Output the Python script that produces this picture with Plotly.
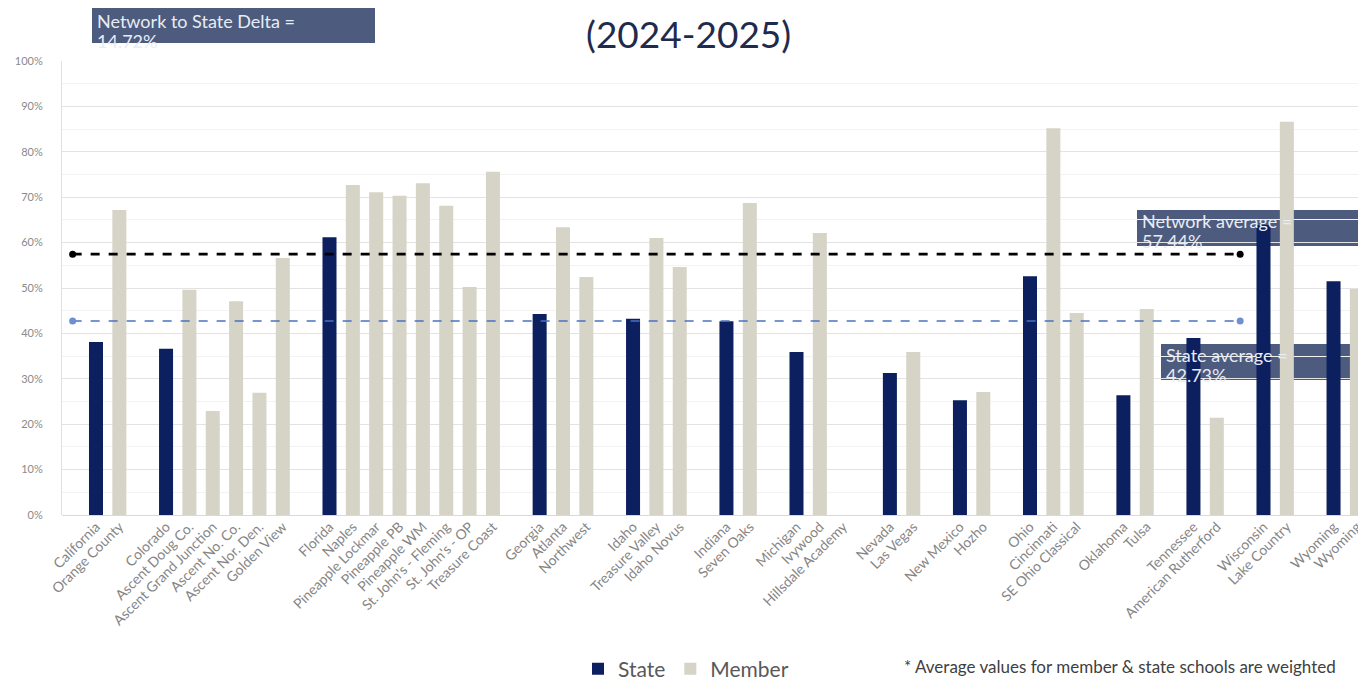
import plotly.graph_objects as go

# ---------------- data ----------------
categories = ["", "California", "Orange County", "",
              "Colorado", "Ascent Doug Co.", "Ascent Grand Junction", "Ascent No. Co.", "Ascent Nor. Den.", "Golden View", "",
              "Florida", "Naples", "Pineapple Lockmar", "Pineapple PB", "Pineapple WM", "St. John's - Fleming", "St. John's - OP", "Treasure Coast", "",
              "Georgia", "Atlanta", "Northwest", "",
              "Idaho", "Treasure Valley", "Idaho Novus", "",
              "Indiana", "Seven Oaks", "",
              "Michigan", "Ivywood", "Hillsdale Academy", "",
              "Nevada", "Las Vegas", "",
              "New Mexico", "Hozho", "",
              "Ohio", "Cincinnati", "SE Ohio Classical", "",
              "Oklahoma", "Tulsa", "",
              "Tennessee", "American Rutherford", "",
              "Wisconsin", "Lake Country", "",
              "Wyoming", "Wyoming"]

state_values = [None, 38.1, None, None,
                36.6, None, None, None, None, None, None,
                61.2, None, None, None, None, None, None, None, None,
                44.3, None, None, None,
                43.2, None, None, None,
                42.7, None, None,
                35.9, None, None, None,
                31.3, None, None,
                25.3, None, None,
                52.6, None, None, None,
                26.4, None, None,
                39.0, None, None,
                63.9, None, None,
                51.5, None]

member_values = [None, None, 67.2, None,
                 None, 49.6, 22.9, 47.1, 26.9, 56.6, None,
                 None, 72.7, 71.1, 70.3, 73.1, 68.1, 50.2, 75.6, None,
                 None, 63.4, 52.4, None,
                 None, 61.0, 54.6, None,
                 None, 68.7, None,
                 None, 62.1, None, None,
                 None, 35.9, None,
                 None, 27.1, None,
                 None, 85.2, 44.5, None,
                 None, 45.4, None,
                 None, 21.4, None,
                 None, 86.6, None,
                 None, 49.8]

network_average = 57.44
state_average = 42.73
network_to_state_delta = 14.72
avg_line_categories = [0, 50]   # category slots where the average lines start / end

y_ticks = list(range(0, 101, 10))
y_tick_labels = [f"{v}%" for v in y_ticks]

# ---------------- styling ----------------
NAVY = "#0c1f5e"
GREY = "#d6d3c7"
BOX = "#4c5b7e"
FONT = "Lato"

OFF = 8                      # page body margin of the html page
W, H = 1366, 681
PLOT_L, PLOT_T = 62, 61      # on-screen plot area corner
PW, PH = 1304, 454
L = PLOT_L - OFF
T = PLOT_T - OFF
R = W - L - PW
B = H - T - PH


def px(x):
    return (x - PLOT_L) / PW


def py(y):
    return (PLOT_T + PH - y) / PH


x_idx = list(range(len(categories)))

fig = go.Figure()
fig.add_trace(go.Bar(x=x_idx, y=state_values, name="State", marker_color=NAVY,
                     width=0.6, marker_line_width=0))
fig.add_trace(go.Bar(x=x_idx, y=member_values, name="Member", marker_color=GREY,
                     width=0.6, marker_line_width=0))

fig.add_trace(go.Scatter(x=avg_line_categories, y=[network_average] * 2, mode="lines+markers",
                         line=dict(color="#000000", width=2.8, dash="dash"),
                         marker=dict(size=7, color="#000000"), showlegend=False, hoverinfo="skip"))
fig.add_trace(go.Scatter(x=avg_line_categories, y=[state_average] * 2, mode="lines+markers",
                         line=dict(color="#4a72c4", width=1.6, dash="dash"),
                         marker=dict(size=7, color="#6f8fd0"), showlegend=False, hoverinfo="skip"))

shapes = []
annotations = []


def add_box(x0, y0, x1, y1, line1, line2, text_top):
    shapes.append(dict(type="rect", xref="paper", yref="paper",
                       x0=px(x0), x1=px(x1), y0=py(y1), y1=py(y0),
                       fillcolor=BOX, line_width=0, layer="between"))
    for i, line in enumerate([line1, line2]):
        annotations.append(dict(xref="paper", yref="paper", x=px(x0 + 3), y=py(text_top + 20 * i),
                                xanchor="left", yanchor="top", align="left", showarrow=False,
                                text=line, font=dict(family=FONT, size=18, color="#e8ecf4")))


add_box(92, 5, 375, 43, "Network to State Delta =", f"{network_to_state_delta:.2f}%", 8)
add_box(1137, 210, 1380, 246, "Network average =", f"{network_average:.2f}%", 208)
add_box(1161, 344, 1380, 380, "State average =", f"{state_average:.2f}%", 342)

annotations.append(dict(xref="paper", yref="paper", x=px(688), y=py(9),
                        xanchor="center", yanchor="top", showarrow=False,
                        text="(2024-2025)", font=dict(family=FONT, size=37, color="#1f2b4d")))
annotations.append(dict(xref="paper", yref="paper", x=px(1338), y=py(666),
                        xanchor="right", yanchor="middle", showarrow=False,
                        text="* Average values for member & state schools are weighted",
                        font=dict(family=FONT, size=17, color="#404040")))

fig.update_layout(
    width=W, height=H,
    margin=dict(l=L, r=R, t=T, b=B, autoexpand=False),
    paper_bgcolor="#ffffff", plot_bgcolor="#ffffff",
    barmode="overlay",
    font=dict(family=FONT, color="#7f7f7f"),
    shapes=shapes, annotations=annotations,
    legend=dict(orientation="h", x=px(578), y=py(669), xanchor="left", yanchor="middle",
                font=dict(family=FONT, size=21, color="#595959"), itemwidth=30,
                bgcolor="rgba(0,0,0,0)"),
    xaxis=dict(range=[-0.456, 55.39], tickmode="array", tickvals=x_idx, ticktext=categories,
               tickangle=-45, tickfont=dict(size=14, color="#858585"), showgrid=False,
               zeroline=False, showline=False, ticks=""),
    yaxis=dict(range=[0, 100], tickmode="array", tickvals=y_ticks, ticktext=y_tick_labels,
               tickfont=dict(size=11, color="#8a8a8a"), showgrid=True, gridcolor="#e3e3e3",
               gridwidth=1, zeroline=True, zerolinecolor="#d9d9d9", zerolinewidth=1,
               showline=True, linecolor="#e0e0e0", ticklabelstandoff=16,
               minor=dict(dtick=5, showgrid=True, gridcolor="#f3f3f3", gridwidth=1)),
)

fig.write_html("out.html")
